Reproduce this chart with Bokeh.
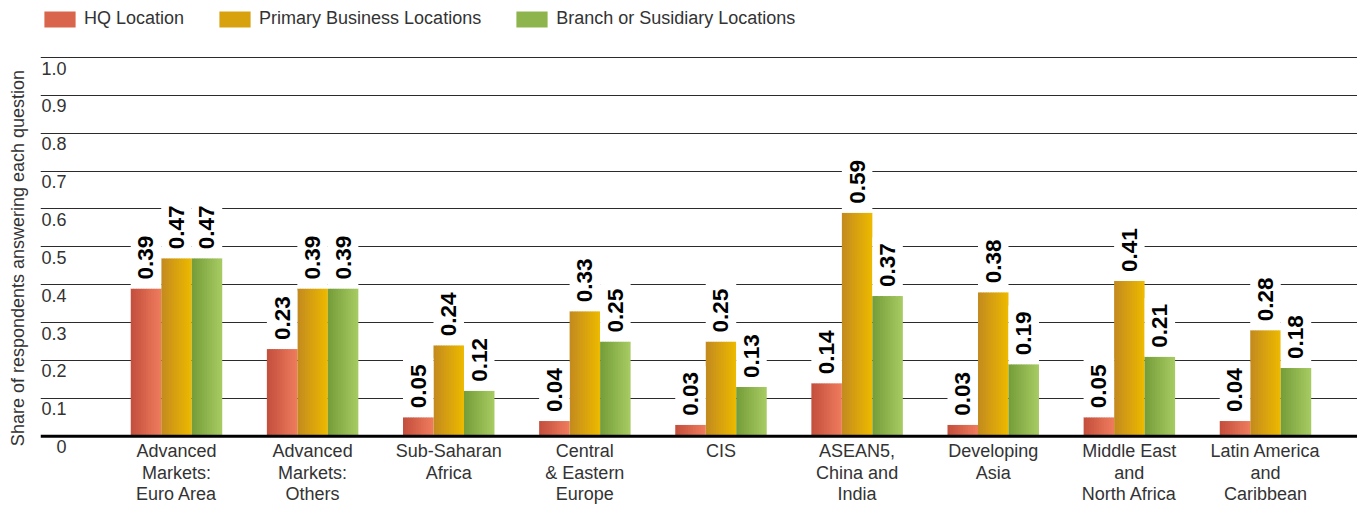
import numpy as np
from bokeh.plotting import figure
from bokeh.models import (ColumnDataSource, Range1d, FixedTicker, Span, Legend,
                          LegendItem, LinearAxis, Grid)
from bokeh.core.properties import value
from bokeh.embed import file_html
from bokeh.resources import INLINE

# ---------------- data ----------------
categories = [
    "Advanced\nMarkets:\nEuro Area",
    "Advanced\nMarkets:\nOthers",
    "Sub-Saharan\nAfrica",
    "Central\n& Eastern\nEurope",
    "CIS",
    "ASEAN5,\nChina and\nIndia",
    "Developing\nAsia",
    "Middle East\nand\nNorth Africa",
    "Latin America\nand\nCaribbean",
]
hq = [0.39, 0.23, 0.05, 0.04, 0.03, 0.14, 0.03, 0.05, 0.04]
primary = [0.47, 0.39, 0.24, 0.33, 0.25, 0.59, 0.38, 0.41, 0.28]
branch = [0.47, 0.39, 0.12, 0.25, 0.13, 0.37, 0.19, 0.21, 0.18]
series_names = ["HQ Location", "Primary Business Locations", "Branch or Susidiary Locations"]
y_ticks = [0.0, 0.1, 0.2, 0.3, 0.4, 0.5, 0.6, 0.7, 0.8, 0.9, 1.0]
y_tick_labels = ["0", "0.1", "0.2", "0.3", "0.4", "0.5", "0.6", "0.7", "0.8", "0.9", "1.0"]
axis_title = "Share of respondents answering each question"

# ---------------- style ----------------
FONT = "Liberation Sans"
TXT = "#333333"
grad_left = [(196, 80, 62), (196, 140, 30), (118, 158, 58)]
grad_right = [(238, 122, 92), (236, 184, 0), (166, 202, 98)]
BAR_W = 0.224
offsets = [-BAR_W, 0.0, BAR_W]
N_STRIPES = 12
X0, X1 = -0.999, 8.676
Y0, Y1 = -0.1883, 1.1294
BOX_H = 0.155

p = figure(width=1357, height=507, x_range=Range1d(X0, X1), y_range=Range1d(Y0, Y1),
           x_axis_type=None, y_axis_type=None, output_backend="svg",
           toolbar_location=None, min_border_left=40, min_border_right=0,
           min_border_top=8, min_border_bottom=0)
p.outline_line_color = None
p.background_fill_color = "white"

# y axis (title only)
yax = LinearAxis(ticker=FixedTicker(ticks=[]), axis_label=axis_title,
                 axis_line_color=None, major_tick_line_color=None,
                 minor_tick_line_color=None, axis_label_standoff=13,
                 axis_label_text_font=FONT, axis_label_text_font_size="18px",
                 axis_label_text_font_style="normal", axis_label_text_color=TXT)
p.add_layout(yax, "left")

# gridlines
grid = Grid(dimension=1, ticker=FixedTicker(ticks=y_ticks[1:]),
            grid_line_color="#2b2b2b", grid_line_width=1.2)
p.add_layout(grid)

# gradient bars built from thin stripes
series_vals = [hq, primary, branch]
idx = np.arange(len(categories))
L, R, T, C = [], [], [], []
for s, vals in enumerate(series_vals):
    vals = np.array(vals)
    bar_left = idx + offsets[s] - BAR_W / 2
    sw = BAR_W / N_STRIPES
    for k in range(N_STRIPES):
        t = k / (N_STRIPES - 1)
        rgb = tuple(int(round(a + (b - a) * t)) for a, b in zip(grad_left[s], grad_right[s]))
        col = "#%02x%02x%02x" % rgb
        left = bar_left + k * sw
        right = left + sw * (1.35 if k < N_STRIPES - 1 else 1.0)
        L.extend(left); R.extend(right); T.extend(vals); C.extend([col] * len(vals))
stripes = ColumnDataSource(dict(left=L, right=R, top=T, bottom=[0] * len(T), color=C))
p.quad(left="left", right="right", top="top", bottom="bottom", source=stripes,
       fill_color="color", line_color=None)

# zero line
p.add_layout(Span(location=0, dimension="width", line_color="black", line_width=3))

# white boxes + value labels
for s, vals in enumerate(series_vals):
    vals = np.array(vals)
    xs = idx + offsets[s]
    p.vbar(x=xs, bottom=vals, top=vals + BOX_H, width=BAR_W, fill_color="white",
           line_color=None)
    p.text(x=xs, y=vals, text=["%.2f" % v for v in vals], angle=np.pi / 2,
           text_align="left", text_baseline="middle", y_offset=-9,
           text_font=value(FONT), text_font_style="bold", text_font_size="22.5px",
           text_color="black")

# y tick labels
p.text(x=[X0] * len(y_ticks), y=y_ticks, text=y_tick_labels, x_offset=26, y_offset=4,
       text_align="right", text_baseline="top", text_font=value(FONT),
       text_font_size="18px", text_color=TXT)

# category labels
p.text(x=idx, y=[0] * len(categories), text=categories, y_offset=5,
       text_align="center", text_baseline="top", text_font=value(FONT),
       text_font_size="18px", text_color=TXT, text_line_height=1.07)

# legend (solid swatches via hidden placeholder renderers)
mid = ["#%02x%02x%02x" % tuple((a + b) // 2 for a, b in zip(l, r))
       for l, r in zip(grad_left, grad_right)]
items = []
for name, col in zip(series_names, mid):
    r = p.quad(left=[np.nan], right=[np.nan], top=[np.nan], bottom=[np.nan],
               fill_color=col, line_color=None)
    items.append(LegendItem(label=name, renderers=[r]))
legend = Legend(items=items, location="top_left", orientation="horizontal",
                glyph_width=39, glyph_height=20, label_standoff=5, spacing=31,
                padding=0, margin=0, border_line_color=None, background_fill_alpha=0,
                label_text_font=FONT, label_text_font_size="18px", label_text_color=TXT)
p.add_layout(legend)

open("out.html", "w").write(file_html(p, INLINE))
